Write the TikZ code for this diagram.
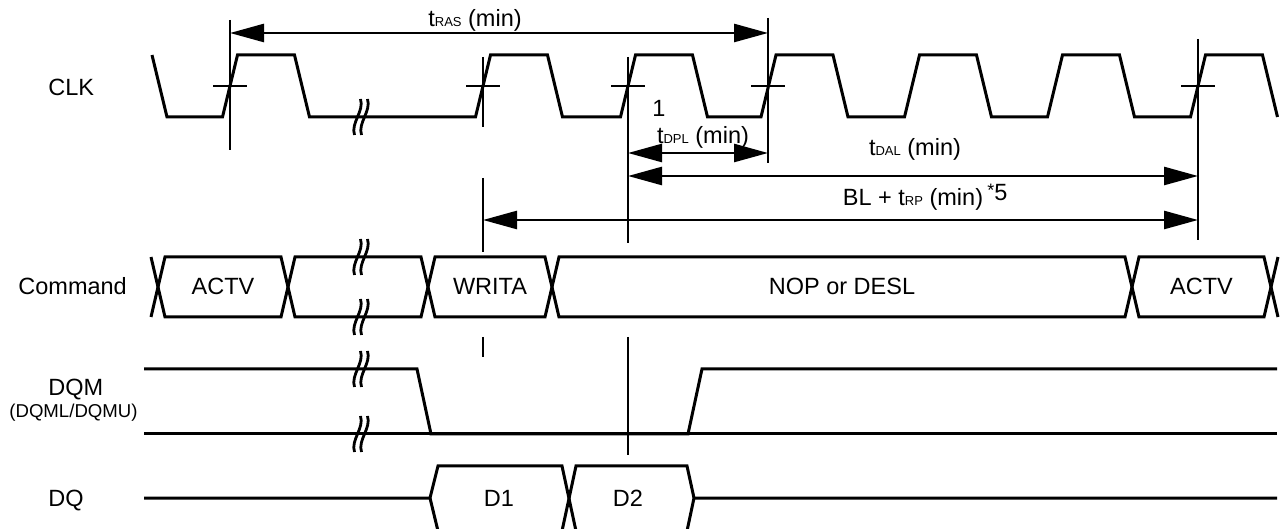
\documentclass[tikz,border=0pt]{standalone}
\usepackage{fontspec}
\setmainfont{Liberation Sans}
\usetikzlibrary{arrows.meta}
\newcommand\tdsub[1]{{\fontsize{6.5}{7}\selectfont #1}}
\newcommand\tdbreak[2]{%
  \foreach \dx in {-3.5,3.5}{%
    \draw[brk] ({#1+\dx+3},{#2-18}) .. controls ({#1+\dx+7},{#2-6}) and ({#1+\dx-7},{#2+6}) .. ({#1+\dx-3},{#2+18});}}
\begin{document}
\begin{tikzpicture}[x=0.5pt,y=-0.5pt,
  sig/.style={line width=1.5pt, line join=miter},
  vline/.style={line width=1.3pt},
  brk/.style={line width=1.4pt},
  dimarrow/.style={line width=1.3pt, {Triangle[length=17pt,width=9pt]}-{Triangle[length=17pt,width=9pt]}},
  lbl/.style={font=\fontsize{11.75}{14}\selectfont, inner sep=0pt},
  sml/.style={font=\fontsize{9.3}{11}\selectfont, inner sep=0pt}
]
\useasboundingbox (0,0) rectangle (1281,529);

% ---------- row labels ----------
\node[lbl,anchor=base west] (clk) at (48,96) {CLK};
\node[lbl,anchor=base west] (cmd) at (18,295) {Command};
\node[lbl,anchor=base west] (dqm) at (48,396) {DQM};
\node[sml,anchor=base west] (dqmu) at (9,418) {(DQML/DQMU)};
\node[lbl,anchor=base west] (dq) at (48,506) {DQ};

% ---------- clock ----------
\draw[sig] (152,55) -- (167,117) -- (222.5,117) -- (237.5,55) -- (294.5,55) -- (309.5,117)
  -- (475.5,117) -- (490.5,55) -- (547.5,55) -- (562.5,117)
  -- (620.5,117) -- (635.5,55) -- (692.5,55) -- (707.5,117)
  -- (761,117) -- (776,55) -- (833,55) -- (848,117)
  -- (904.5,117) -- (919.5,55) -- (976.5,55) -- (991.5,117)
  -- (1047.5,117) -- (1062.5,55) -- (1119.5,55) -- (1134.5,117)
  -- (1190.5,117) -- (1205.5,55) -- (1262.5,55) -- (1277.5,117);
% crossing ticks
\foreach \c in {230,483,628,768,1198}{\draw[vline] ({\c-17},86) -- ({\c+17},86);}

% ---------- reference verticals ----------
\coordinate (a1) at (230,33);  \coordinate (a2) at (768,33);
\coordinate (p1) at (628,153); \coordinate (p2) at (768,153);
\coordinate (d1) at (628,176); \coordinate (d2) at (1198,176);
\coordinate (b1) at (483,220); \coordinate (b2) at (1198,220);
\draw[vline] (230,20) -- (230,150);
\draw[vline] (483,57) -- (483,127);
\draw[vline] (483,178) -- (483,252);
\draw[vline] (483,337) -- (483,357);
\draw[vline] (628,57) -- (628,243);
\draw[vline] (628,337) -- (628,455);
\draw[vline] (768,18) -- (768,163);
\draw[vline] (1198,39) -- (1198,240);

% ---------- dimension arrows ----------
\draw[dimarrow] (a1) -- (a2);
\draw[dimarrow] (p1) -- (p2);
\draw[dimarrow] (d1) -- (d2);
\draw[dimarrow] (b1) -- (b2);
\node[lbl,anchor=base] (tras) at (475,27) {t\tdsub{RAS} (min)};
\node[lbl,anchor=base] (one) at (659,117) {1};
\node[lbl,anchor=base] (tdpl) at (703,144) {t\tdsub{DPL} (min)};
\node[lbl,anchor=base] (tdal) at (915,156) {t\tdsub{DAL} (min)};
\node[lbl,anchor=base] (blrp) at (913,206) {BL + t\tdsub{RP} (min)};
\node[lbl,anchor=base west] (five) at (987,201) {\raisebox{0.35ex}{\fontsize{9}{10}\selectfont *}5};

% ---------- command bus ----------
\foreach \l/\r in {158/288,288/428,428/552,552/1132,1132/1271}{
  \draw[sig] ({\l+7},257) -- ({\r-7},257) -- (\r,287) -- ({\r-7},317) -- ({\l+7},317) -- (\l,287) -- cycle;}
\draw[sig] (151,257) -- (158,287) -- (151,317);
\draw[sig] (1278,257) -- (1271,287) -- (1278,317);
\node[lbl,anchor=base] (c1) at (223,295) {ACTV};
\node[lbl,anchor=base] (c2) at (490,295) {WRITA};
\node[lbl,anchor=base] (c3) at (842,295) {NOP or DESL};
\node[lbl,anchor=base] (c4) at (1201.5,295) {ACTV};

% ---------- DQM ----------
\draw[sig] (144,369) -- (417,369) -- (431,434) -- (688,434) -- (702,369) -- (1277,369);
\draw[sig] (144,434) -- (1277,434);

% ---------- DQ ----------
\draw[sig] (144,498) -- (430,498) -- (438,466) -- (562,466) -- (576,531) -- (687,531) -- (694,498) -- (1277,498);
\draw[sig] (430,498) -- (438,531) -- (562,531) -- (576,466) -- (687,466) -- (694,498);
\node[lbl,anchor=base] (dd1) at (499,506) {D1};
\node[lbl,anchor=base] (dd2) at (628,506) {D2};

% ---------- breaks ----------
\tdbreak{361}{117}
\tdbreak{361}{257}
\tdbreak{361}{317}
\tdbreak{361}{369}
\tdbreak{361}{434}
\end{tikzpicture}
\end{document}
